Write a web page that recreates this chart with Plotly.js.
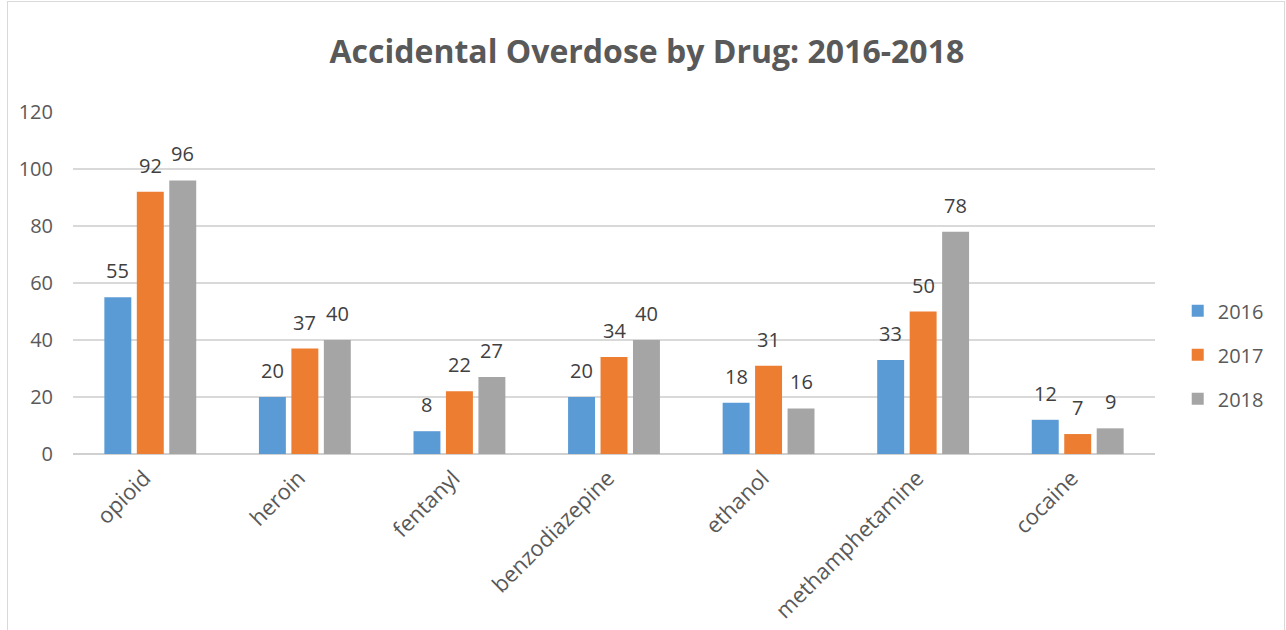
<!DOCTYPE html>
<html>
<head>
<meta charset="utf-8">
<script src="https://cdn.plot.ly/plotly-3.0.1.min.js"></script>
<style>
html,body{margin:0;padding:0;background:#fff;overflow:hidden;}
#chart{position:absolute;left:0;top:0;width:1286px;height:630px;}
#frame{position:absolute;left:7px;top:1px;width:1276px;height:660px;border:1px solid #d9d9d9;pointer-events:none;}
</style>
</head>
<body>
<div id="chart"></div>
<div id="frame"></div>
<script>
const categories = ["opioid","heroin","fentanyl","benzodiazepine","ethanol","methamphetamine","cocaine"];
const years = ["2016","2017","2018"];
const values2016 = [55,20,8,20,18,33,12];
const values2017 = [92,37,22,34,31,50,7];
const values2018 = [96,40,27,40,16,78,9];
const yTicks = [0,20,40,60,80,100,120];

const colors = ["#5b9bd5","#ed7d31","#a5a5a5"];
const series = [values2016, values2017, values2018];
const FONT = "'Open Sans', 'Noto Sans', sans-serif";
const BARGAP = 0.37;

const traces = series.map((vals,i)=>({
  type:"bar",
  name: years[i],
  x: categories,
  y: vals,
  marker:{color:colors[i]},
  legendgroup: years[i],
  hoverinfo:"x+y"
}));

// data labels placed through the axes (category index + group offset)
const annotations = [];
series.forEach((vals,i)=>{
  vals.forEach((v,j)=>{
    annotations.push({
      x: j + (i-1)*(1-BARGAP)/3, y: v, xref:"x", yref:"y",
      text: String(v), showarrow:false, yanchor:"bottom", xanchor:"center", yshift:11,
      font:{family:FONT,size:20,color:"#404040"}
    });
  });
});

const layout = {
  width:1286, height:630,
  margin:{l:73,r:131,t:112,b:176},
  paper_bgcolor:"#fff", plot_bgcolor:"#fff",
  title:{text:"<b>Accidental Overdose by Drug: 2016-2018</b>", x:0.503, xanchor:"center", y:0.917, yanchor:"middle",
    font:{family:FONT,size:32,color:"#595959"}},
  barmode:"group",
  bargap:BARGAP,
  bargroupgap:0.17,
  font:{family:FONT,color:"#595959"},
  xaxis:{tickangle:-45, tickfont:{family:FONT,size:22,color:"#595959"}, showline:false, ticks:"", showgrid:false,
    ticklabelshift:-6, ticklabelstandoff:6},
  yaxis:{range:[0,120], tickvals:yTicks, ticktext:yTicks.map(String), showgrid:true, gridcolor:"#d9d9d9", gridwidth:1.3,
    zeroline:true, zerolinecolor:"#d0d0d0", zerolinewidth:1.5, ticks:"", ticklabelstandoff:19,
    tickfont:{family:FONT,size:20,color:"#595959"}, showline:false},
  legend:{x:1.021, xanchor:"left", y:0.29, yanchor:"middle", font:{family:FONT,size:20,color:"#595959"}, tracegroupgap:15, bgcolor:"rgba(0,0,0,0)"},
  annotations: annotations,
  showlegend:true
};

Plotly.newPlot("chart", traces, layout, {displayModeBar:false, staticPlot:true});
</script>
</body>
</html>
